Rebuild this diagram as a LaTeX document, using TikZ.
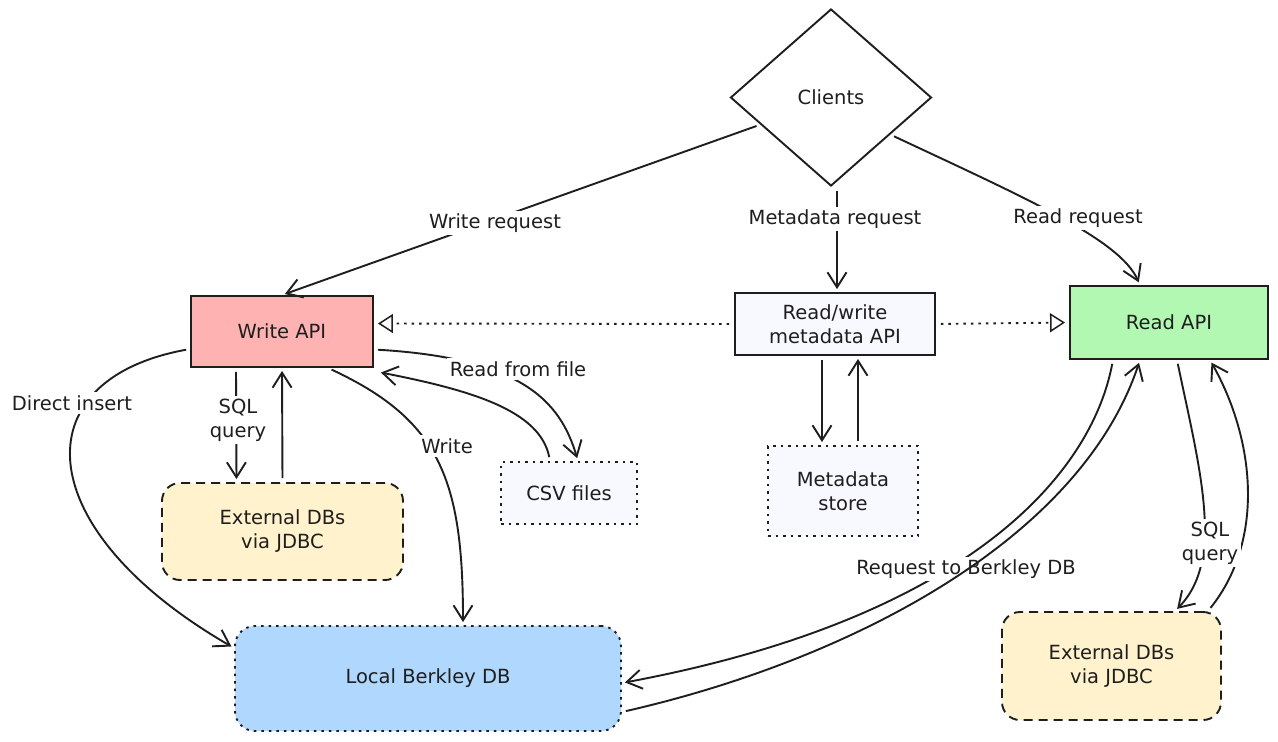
\documentclass[tikz,border=0pt]{standalone}
\usepackage{fontspec}
\setmainfont{DejaVu Sans}
\usetikzlibrary{shapes.geometric,arrows.meta}
\definecolor{ink}{HTML}{1E1E1E}
\definecolor{wpink}{HTML}{FFB2B2}
\definecolor{rgreen}{HTML}{B2F7B2}
\definecolor{lav}{HTML}{F8F8FF}
\definecolor{beige}{HTML}{FFF2CC}
\definecolor{lblue}{HTML}{B0D8FF}
\tikzset{
  box/.style={draw=ink, line width=1.9pt, inner sep=2pt, align=center},
  dotbox/.style={box, dash pattern=on 2.5pt off 5pt},
  dashbox/.style={box, dash pattern=on 9pt off 6pt, rounded corners=18pt},
  arr/.style={draw=ink, line width=1.9pt, -{Straight Barb[length=15pt,width=19pt,line width=1.9pt]}, shorten <=4pt, shorten >=3pt},
  darr/.style={draw=ink, line width=1.9pt, dash pattern=on 2.5pt off 5pt, -{Triangle[open,length=15pt,width=19pt,line width=1.5pt]}, shorten <=5pt, shorten >=4pt},
  lbl/.style={fill=white, inner sep=3pt, align=center, text=ink}
}
\begin{document}
\begin{tikzpicture}[x=1pt,y=-1pt,font=\fontsize{19.5}{24}\selectfont,text=ink]
\fill[white] (0,0) rectangle (1278,742);
\useasboundingbox (0,0) rectangle (1278,742);

% nodes
\node[diamond, draw=ink, line width=1.9pt, minimum width=201pt, minimum height=177pt, inner sep=0pt] (clients) at (831,97.5) {Clients};
\node[box, fill=wpink, minimum width=182pt, minimum height=71pt] (wapi) at (282,331.5) {Write API};
\node[box, fill=lav, minimum width=200pt, minimum height=62pt] (mapi) at (835,324) {Read/write\\metadata API};
\node[box, fill=rgreen, minimum width=198pt, minimum height=73pt] (rapi) at (1169,322.5) {Read API};
\node[dotbox, fill=lav, minimum width=136pt, minimum height=62pt] (csv) at (569,493) {CSV files};
\node[dotbox, fill=lav, minimum width=150pt, minimum height=90pt] (mstore) at (843,491) {Metadata\\store};
\node[dashbox, fill=beige, minimum width=241pt, minimum height=97pt] (ext1) at (282.5,531.5) {External DBs\\via JDBC};
\node[dotbox, fill=lblue, rounded corners=20pt, minimum width=386pt, minimum height=105pt] (local) at (428,678.5) {Local Berkley DB};
\node[dashbox, fill=beige, minimum width=219pt, minimum height=108pt] (ext2) at (1111.5,666) {External DBs\\via JDBC};

% connectors from clients
\draw[arr] (clients.201) -- (wapi.north);
\draw[arr] ([xshift=6pt]clients.south) -- ([xshift=2pt]mapi.north);
\draw[arr] (clients.328) .. controls (1030,200) and (1120,240) .. ([xshift=-29pt]rapi.north);

% dotted
\draw[darr] (mapi.west) -- ([yshift=8pt]wapi.east);
\draw[darr] (mapi.east) -- (rapi.west);

% write api
\draw[arr] ([yshift=-17.5pt]wapi.west) .. controls (20,380) and (30,530) .. ([yshift=30.5pt]local.west);
\draw[arr] ([xshift=-46pt]wapi.south) -- ([xshift=-46pt]ext1.north);
\draw[arr] (ext1.north) -- (wapi.south);
\draw[arr] ([xshift=46pt]wapi.south) .. controls (440,420) and (463,480) .. ([xshift=35pt]local.north);
\draw[arr] ([yshift=-18pt]wapi.east) .. controls (520,358) and (560,400) .. ([xshift=9pt]csv.north);
\draw[arr] ([xshift=-19pt]csv.north) .. controls (540,410) and (470,390) .. ([xshift=4pt,yshift=-4pt]wapi.south east);

% metadata
\draw[arr] ([xshift=-13pt]mapi.south) -- ([xshift=-21pt]mstore.north);
\draw[arr] ([xshift=15pt]mstore.north) -- ([xshift=23pt]mapi.south);

% read api
\draw[arr] ([xshift=-56pt]rapi.south) .. controls (1090,480) and (960,620) .. ([yshift=-4.5pt]local.east);
\node[lbl] (lberk) at (966,569) {Request to Berkley DB};
\draw[arr] ([yshift=-33.5pt]local.east) .. controls (850,660) and (1080,540) .. ([xshift=-29pt]rapi.south);
\draw[arr] ([xshift=8pt]rapi.south) .. controls (1200,470) and (1225,560) .. ([xshift=63.5pt]ext2.north);
\draw[arr] ([xshift=96.5pt]ext2.north) .. controls (1265,540) and (1255,440) .. ([xshift=41pt]rapi.south);

% labels
\node[lbl] (lwrite) at (495,223) {Write request};
\node[lbl] (lmeta) at (835,219) {Metadata request};
\node[lbl] (lread) at (1078,218) {Read request};
\node[lbl] (ldirect) at (72,403) {Direct insert};
\node[lbl] (lsql1) at (238,420) {SQL\\query};
\node[lbl] (lwr) at (447,446) {Write};
\node[lbl] (lfile) at (518,369) {Read from file};
\node[lbl] (lsql2) at (1210,543) {SQL\\query};
\end{tikzpicture}
\end{document}
